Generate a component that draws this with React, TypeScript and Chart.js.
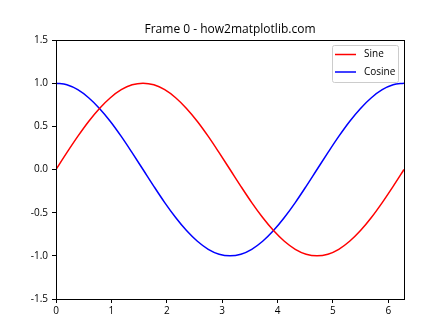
import React, { useEffect, useRef } from "react";
import { Chart, registerables } from "chart.js";

Chart.register(...registerables);

const titleText = "Frame 0 - how2matplotlib.com";
const xValues = [0, 0.196, 0.393, 0.589, 0.785, 0.982, 1.178, 1.374, 1.571, 1.767, 1.963, 2.16, 2.356, 2.553, 2.749, 2.945, 3.142, 3.338, 3.534, 3.731, 3.927, 4.123, 4.32, 4.516, 4.712, 4.909, 5.105, 5.301, 5.498, 5.694, 5.89, 6.087, 6.283];
const sineValues = [0, 0.195, 0.383, 0.556, 0.707, 0.831, 0.924, 0.981, 1, 0.981, 0.924, 0.831, 0.707, 0.556, 0.383, 0.195, 0, -0.195, -0.383, -0.556, -0.707, -0.831, -0.924, -0.981, -1, -0.981, -0.924, -0.831, -0.707, -0.556, -0.383, -0.195, 0];
const cosineValues = [1, 0.981, 0.924, 0.831, 0.707, 0.556, 0.383, 0.195, 0, -0.195, -0.383, -0.556, -0.707, -0.831, -0.924, -0.981, -1, -0.981, -0.924, -0.831, -0.707, -0.556, -0.383, -0.195, 0, 0.195, 0.383, 0.556, 0.707, 0.831, 0.924, 0.981, 1];
const xTicks = [0, 1, 2, 3, 4, 5, 6];
const yTicks = [-1.5, -1.0, -0.5, 0.0, 0.5, 1.0, 1.5];
const seriesNames = ["Sine", "Cosine"];
const seriesColors = ["#ff0000", "#0000ff"];
const xMax = 6.283;

const FONT = "'Open Sans', 'Noto Sans', sans-serif";

const framePlugin = {
  id: "frameTitleLegend",
  afterDraw(chart: any) {
    const { ctx, chartArea } = chart;
    const { left, right, top, bottom } = chartArea;
    ctx.save();
    // spines
    ctx.strokeStyle = "#000";
    ctx.lineWidth = 1;
    ctx.strokeRect(Math.round(left) + 0.5, Math.round(top) + 0.5, Math.round(right - left), Math.round(bottom - top));
    // title
    ctx.fillStyle = "#000";
    ctx.font = `12px ${FONT}`;
    ctx.textAlign = "center";
    ctx.textBaseline = "alphabetic";
    ctx.fillText(titleText, (left + right) / 2, 33);
    // legend
    const bx = 332.5, by = 45.5, bw = 66, bh = 37, r = 2;
    ctx.beginPath();
    ctx.moveTo(bx + r, by);
    ctx.lineTo(bx + bw - r, by);
    ctx.quadraticCurveTo(bx + bw, by, bx + bw, by + r);
    ctx.lineTo(bx + bw, by + bh - r);
    ctx.quadraticCurveTo(bx + bw, by + bh, bx + bw - r, by + bh);
    ctx.lineTo(bx + r, by + bh);
    ctx.quadraticCurveTo(bx, by + bh, bx, by + bh - r);
    ctx.lineTo(bx, by + r);
    ctx.quadraticCurveTo(bx, by, bx + r, by);
    ctx.closePath();
    ctx.fillStyle = "rgba(255,255,255,0.8)";
    ctx.fill();
    ctx.strokeStyle = "#cccccc";
    ctx.stroke();
    ctx.font = `10px ${FONT}`;
    ctx.textAlign = "left";
    ctx.textBaseline = "middle";
    seriesNames.forEach((name, i) => {
      const ly = 54.5 + i * 17.5;
      ctx.strokeStyle = seriesColors[i];
      ctx.lineWidth = 1.5;
      ctx.beginPath();
      ctx.moveTo(335, ly);
      ctx.lineTo(356, ly);
      ctx.stroke();
      ctx.fillStyle = "#000";
      ctx.fillText(name, 364, ly);
    });
    ctx.restore();
  },
};

export default function App() {
  const ref = useRef<HTMLCanvasElement>(null);
  useEffect(() => {
    if (!ref.current) return;
    const chart = new Chart(ref.current, {
      type: "line",
      data: {
        datasets: [
          {
            label: seriesNames[0],
            data: xValues.map((x, i) => ({ x, y: sineValues[i] })),
            borderColor: seriesColors[0],
            borderWidth: 1.5,
            pointRadius: 0,
            cubicInterpolationMode: "monotone",
            fill: false,
          },
          {
            label: seriesNames[1],
            data: xValues.map((x, i) => ({ x, y: cosineValues[i] })),
            borderColor: seriesColors[1],
            borderWidth: 1.5,
            pointRadius: 0,
            cubicInterpolationMode: "monotone",
            fill: false,
          },
        ],
      },
      options: {
        animation: false,
        responsive: false,
        maintainAspectRatio: false,
        layout: { padding: { left: 0, right: 44, top: 40, bottom: 0 } },
        plugins: {
          legend: { display: false },
          title: { display: false },
          tooltip: { enabled: false },
        },
        scales: {
          x: {
            type: "linear",
            min: 0,
            max: xMax,
            afterBuildTicks: (scale: any) => {
              scale.ticks = xTicks.map((v) => ({ value: v }));
            },
            afterFit: (scale: any) => {
              scale.height = 37;
            },
            ticks: {
              color: "#000",
              font: { family: FONT, size: 10 },
              padding: 2,
              maxRotation: 0,
              autoSkip: false,
              callback: (v: any) => String(v),
            },
            grid: {
              display: true,
              drawOnChartArea: false,
              drawTicks: true,
              tickLength: 4,
              color: "#000",
            },
            border: { display: false },
          },
          y: {
            type: "linear",
            min: -1.5,
            max: 1.5,
            afterBuildTicks: (scale: any) => {
              scale.ticks = yTicks.map((v) => ({ value: v }));
            },
            afterFit: (scale: any) => {
              scale.width = 56;
            },
            ticks: {
              color: "#000",
              font: { family: FONT, size: 10 },
              padding: 4,
              autoSkip: false,
              callback: (v: any) => Number(v).toFixed(1),
            },
            grid: {
              display: true,
              drawOnChartArea: false,
              drawTicks: true,
              tickLength: 4,
              color: "#000",
            },
            border: { display: false },
          },
        },
      },
      plugins: [framePlugin],
    });
    return () => chart.destroy();
  }, []);
  return (
    <div style={{ position: "absolute", left: 0, top: 0, width: 448, height: 336, background: "#fff" }}>
      <canvas ref={ref} width={448} height={336} style={{ width: 448, height: 336 }} />
    </div>
  );
}
